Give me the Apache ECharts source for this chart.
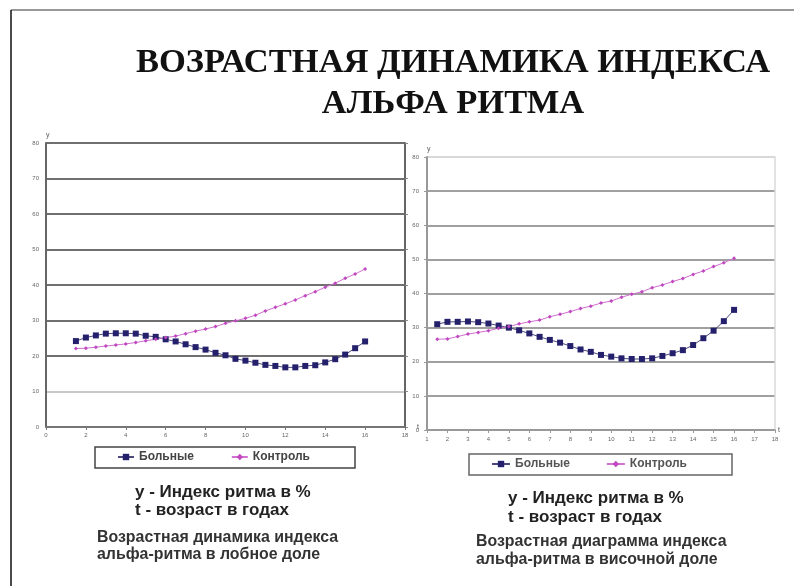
<!DOCTYPE html>
<html>
<head>
<meta charset="utf-8">
<script src="https://cdn.jsdelivr.net/npm/echarts@6/dist/echarts.min.js"></script>
<style>
  html, body { margin: 0; padding: 0; background: #fff; }
  #chart { width: 794px; height: 586px; }
</style>
</head>
<body>
<div id="chart"></div>
<script>
// Age in years (t) at which the index was evaluated
const ages = [1.5, 2, 2.5, 3, 3.5, 4, 4.5, 5, 5.5, 6, 6.5, 7, 7.5, 8, 8.5, 9,
              9.5, 10, 10.5, 11, 11.5, 12, 12.5, 13, 13.5, 14, 14.5, 15, 15.5, 16];

// Frontal lobe: alpha-rhythm index, %
const frontalPatients = [24.2, 25.2, 25.8, 26.3, 26.4, 26.4, 26.3, 25.7, 25.4, 24.7,
                         24.1, 23.3, 22.5, 21.8, 20.9, 20.2, 19.2, 18.7, 18.1, 17.5,
                         17.2, 16.8, 16.8, 17.2, 17.4, 18.2, 19.1, 20.4, 22.2, 24.1];
const frontalControl  = [22.1, 22.2, 22.5, 22.8, 23.1, 23.4, 23.8, 24.3, 24.7, 25.2,
                         25.6, 26.3, 27.0, 27.6, 28.3, 29.2, 29.9, 30.6, 31.5, 32.7,
                         33.7, 34.7, 35.8, 37.0, 38.1, 39.4, 40.5, 41.9, 43.1, 44.5];

// Temporal lobe: alpha-rhythm index, %
const temporalPatients = [31.0, 31.7, 31.7, 31.8, 31.6, 31.2, 30.6, 30.0, 29.2, 28.3,
                          27.3, 26.4, 25.6, 24.6, 23.6, 22.9, 22.0, 21.5, 21.0, 20.8,
                          20.8, 21.0, 21.7, 22.5, 23.4, 24.9, 26.9, 29.1, 31.9, 35.2];
const temporalControl  = [26.6, 26.7, 27.4, 28.1, 28.6, 29.1, 29.8, 30.3, 31.1, 31.7,
                          32.2, 33.2, 33.9, 34.7, 35.6, 36.3, 37.2, 37.8, 38.9, 39.8,
                          40.5, 41.7, 42.5, 43.5, 44.4, 45.6, 46.6, 47.9, 49.0, 50.3];

const seriesNames = ['Больные', 'Контроль'];

const pairs = (xs, ys) => xs.map((x, i) => [x, ys[i]]);

const labelStyle = { fontSize: 6, color: '#666', fontFamily: 'Liberation Sans' };
const nameStyle = { fontSize: 7, color: '#555', fontFamily: 'Liberation Sans' };

const patientStyle = {
  type: 'line', symbol: 'rect', symbolSize: 6,
  itemStyle: { color: '#25206c' },
  lineStyle: { color: '#4b4a7c', width: 1 },
  animation: false
};
const controlStyle = {
  type: 'line', symbol: 'diamond', symbolSize: 4,
  itemStyle: { color: '#c048c0' },
  lineStyle: { color: '#d070d0', width: 1 },
  animation: false
};

const chart = echarts.init(document.getElementById('chart'), null, { renderer: 'canvas' });

chart.setOption({
  backgroundColor: '#fff',
  animation: false,
  grid: [
    { left: 46, top: 143, width: 359, height: 284 },
    { left: 427, top: 157, width: 348, height: 273 }
  ],
  xAxis: [
    {
      gridIndex: 0, type: 'value', min: 0, max: 18, interval: 2,
      name: 't', nameLocation: 'end', nameGap: 12, nameTextStyle: nameStyle,
      axisLine: { lineStyle: { color: '#777', width: 1.5 } },
      axisTick: { length: 3, lineStyle: { color: '#777' } },
      axisLabel: Object.assign({ margin: 5 }, labelStyle),
      splitLine: { show: false }
    },
    {
      gridIndex: 1, type: 'value', min: 1, max: 18, interval: 1,
      name: 't', nameLocation: 'end', nameGap: 3, nameTextStyle: nameStyle,
      axisLine: { lineStyle: { color: '#999', width: 1.5 } },
      axisTick: { length: 3, lineStyle: { color: '#999' } },
      axisLabel: Object.assign({ margin: 6 }, labelStyle),
      splitLine: { show: false }
    }
  ],
  yAxis: [
    {
      gridIndex: 0, type: 'value', min: 0, max: 80, interval: 10,
      name: 'y', nameLocation: 'end', nameGap: 4, nameTextStyle: Object.assign({ align: 'left' }, nameStyle),
      axisLine: { show: true, lineStyle: { color: '#666', width: 2 } },
      axisTick: { show: false },
      axisLabel: Object.assign({ margin: 7 }, labelStyle),
      splitLine: { lineStyle: { color: ['#777', '#c8c8c8', '#707070', '#707070', '#707070', '#707070', '#707070', '#707070', '#707070'], width: 2 } }
    },
    {
      gridIndex: 0, type: 'value', min: 0, max: 80, interval: 10, position: 'right',
      axisLine: { show: true, lineStyle: { color: '#666', width: 2 } },
      axisTick: { show: true, length: 3, lineStyle: { color: '#888' } },
      axisLabel: { show: false },
      splitLine: { show: false }
    },
    {
      gridIndex: 1, type: 'value', min: 0, max: 80, interval: 10,
      name: 'y', nameLocation: 'end', nameGap: 4, nameTextStyle: Object.assign({ align: 'left' }, nameStyle),
      axisLine: { show: true, lineStyle: { color: '#999', width: 2 } },
      axisTick: { show: true, length: 3, lineStyle: { color: '#999' } },
      axisLabel: Object.assign({ margin: 8 }, labelStyle),
      splitLine: { lineStyle: { color: ['#999', '#a0a0a0', '#a0a0a0', '#a0a0a0', '#a0a0a0', '#a0a0a0', '#a0a0a0', '#a0a0a0', '#d8d8d8'], width: 2 } }
    },
    {
      gridIndex: 1, type: 'value', min: 0, max: 80, interval: 10, position: 'right',
      axisLine: { show: true, lineStyle: { color: '#d8d8d8', width: 1.5 } },
      axisTick: { show: false },
      axisLabel: { show: false },
      splitLine: { show: false }
    }
  ],
  legend: [
    {
      data: seriesNames, left: 112, top: 446, itemGap: 37, itemWidth: 16, itemHeight: 8,
      textStyle: { fontSize: 12, fontWeight: 'bold', color: '#444', fontFamily: 'Liberation Sans' }
    },
    {
      data: seriesNames, left: 486, top: 453, itemGap: 36, itemWidth: 18, itemHeight: 8,
      textStyle: { fontSize: 12, fontWeight: 'bold', color: '#555', fontFamily: 'Liberation Sans' }
    }
  ],
  series: [
    Object.assign({ name: seriesNames[0], xAxisIndex: 0, yAxisIndex: 0, data: pairs(ages, frontalPatients) }, patientStyle),
    Object.assign({ name: seriesNames[1], xAxisIndex: 0, yAxisIndex: 0, data: pairs(ages, frontalControl) }, controlStyle),
    Object.assign({ name: seriesNames[0], xAxisIndex: 1, yAxisIndex: 2, data: pairs(ages, temporalPatients) }, patientStyle),
    Object.assign({ name: seriesNames[1], xAxisIndex: 1, yAxisIndex: 2, data: pairs(ages, temporalControl) }, controlStyle)
  ],
  graphic: [
    // page frame
    { type: 'line', shape: { x1: 11, y1: 10, x2: 794, y2: 10 }, style: { stroke: '#999', lineWidth: 2 } },
    { type: 'line', shape: { x1: 11, y1: 10, x2: 11, y2: 586 }, style: { stroke: '#111', lineWidth: 1.5 } },
    // heading
    { type: 'text', x: 453, y: 63, style: { text: 'ВОЗРАСТНАЯ ДИНАМИКА ИНДЕКСА', font: 'bold 34.5px "Liberation Serif"', fill: '#111', align: 'center', verticalAlign: 'middle' } },
    { type: 'text', x: 453, y: 104, style: { text: 'АЛЬФА РИТМА', font: 'bold 34.5px "Liberation Serif"', fill: '#111', align: 'center', verticalAlign: 'middle' } },
    // legend frames
    { type: 'rect', shape: { x: 95, y: 447, width: 260, height: 21 }, style: { fill: 'none', stroke: '#444', lineWidth: 1.5 } },
    { type: 'rect', shape: { x: 469, y: 454, width: 263, height: 21 }, style: { fill: 'none', stroke: '#666', lineWidth: 1.5 } },
    // captions under the frontal-lobe chart
    { type: 'text', x: 135, y: 492, style: { text: 'у - Индекс ритма в %', font: 'bold 17px "Liberation Sans"', fill: '#222', verticalAlign: 'middle' } },
    { type: 'text', x: 135, y: 510, style: { text: 't - возраст в годах', font: 'bold 17px "Liberation Sans"', fill: '#222', verticalAlign: 'middle' } },
    { type: 'text', x: 97, y: 538, style: { text: 'Возрастная динамика индекса', font: 'bold 15.9px "Liberation Sans"', fill: '#333', verticalAlign: 'middle' } },
    { type: 'text', x: 97, y: 555, style: { text: 'альфа-ритма в лобное доле', font: 'bold 15.9px "Liberation Sans"', fill: '#333', verticalAlign: 'middle' } },
    // captions under the temporal-lobe chart
    { type: 'text', x: 508, y: 498, style: { text: 'у - Индекс ритма в %', font: 'bold 17px "Liberation Sans"', fill: '#222', verticalAlign: 'middle' } },
    { type: 'text', x: 508, y: 517, style: { text: 't - возраст в годах', font: 'bold 17px "Liberation Sans"', fill: '#222', verticalAlign: 'middle' } },
    { type: 'text', x: 476, y: 542, style: { text: 'Возрастная диаграмма индекса', font: 'bold 15.9px "Liberation Sans"', fill: '#333', verticalAlign: 'middle' } },
    { type: 'text', x: 476, y: 560, style: { text: 'альфа-ритма в височной доле', font: 'bold 15.9px "Liberation Sans"', fill: '#333', verticalAlign: 'middle' } }
  ]
});
</script>
</body>
</html>
